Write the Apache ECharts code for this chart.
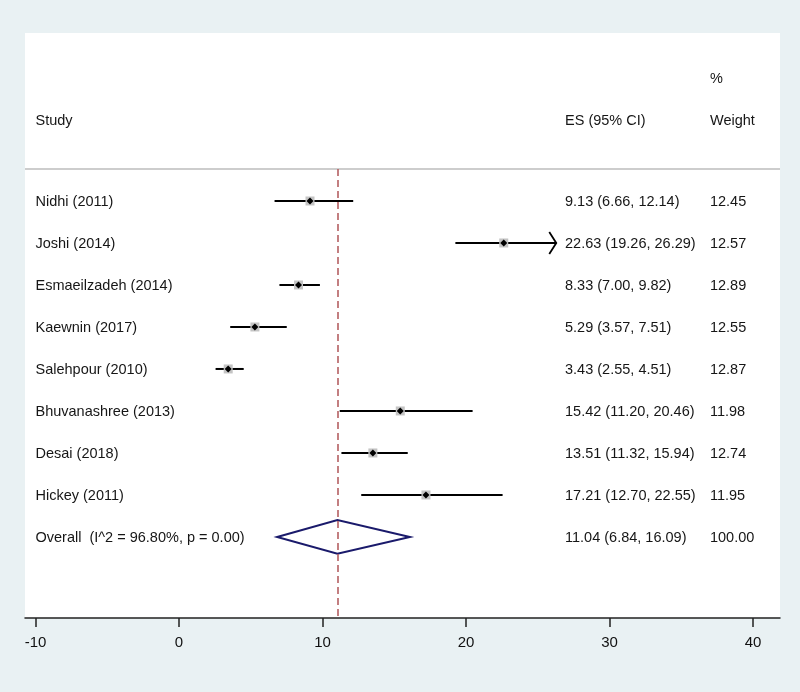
<!DOCTYPE html>
<html>
<head>
<meta charset="utf-8">
<script src="https://cdn.jsdelivr.net/npm/echarts@6/dist/echarts.min.js"></script>
<style>
  html, body { margin: 0; padding: 0; background: #e9f1f3; }
  #main { width: 800px; height: 692px; }
</style>
</head>
<body>
<div id="main"></div>
<script>
// 数据
var studies = ['Nidhi (2011)', 'Joshi (2014)', 'Esmaeilzadeh (2014)', 'Kaewnin (2017)',
               'Salehpour (2010)', 'Bhuvanashree (2013)', 'Desai (2018)', 'Hickey (2011)'];
var es     = [9.13, 22.63, 8.33, 5.29, 3.43, 15.42, 13.51, 17.21];
var lower  = [6.66, 19.26, 7.00, 3.57, 2.55, 11.20, 11.32, 12.70];
var upper  = [12.14, 26.29, 9.82, 7.51, 4.51, 20.46, 15.94, 22.55];
var weight = [12.45, 12.57, 12.89, 12.55, 12.87, 11.98, 12.74, 11.95];
var arrowUpper = [false, true, false, false, false, false, false, false];

var overallLabel = 'Overall  (I^2 = 96.80%, p = 0.00)';
var overall = { es: 11.04, lower: 6.84, upper: 16.09, weight: 100.00 };

var xTicks = [-10, 0, 10, 20, 30, 40];

// 版式
var firstRow = 4;          // 第一项研究所在行
var headerLine = 3.24;     // 表头分隔线
var yMax = 13.93;
var colStudy = -10.0, colES = 26.9, colW = 37.0;
var font = 'Liberation Sans, Arial, sans-serif';

function fmt(v) { return v.toFixed(2); }

var rows = studies.map(function (s, i) {
    return [es[i], firstRow + i, lower[i], upper[i], weight[i], arrowUpper[i] ? 1 : 0];
});

var textRows = [];
textRows.push([colW, 1.05, '%']);
textRows.push([colStudy, 2.05, 'Study']);
textRows.push([colES, 2.05, 'ES (95% CI)']);
textRows.push([colW, 2.05, 'Weight']);
studies.forEach(function (s, i) {
    textRows.push([colStudy, firstRow + i, s]);
    textRows.push([colES, firstRow + i, fmt(es[i]) + ' (' + fmt(lower[i]) + ', ' + fmt(upper[i]) + ')']);
    textRows.push([colW, firstRow + i, fmt(weight[i])]);
});
var overallRow = firstRow + studies.length;
textRows.push([colStudy, overallRow, overallLabel]);
textRows.push([colES, overallRow, fmt(overall.es) + ' (' + fmt(overall.lower) + ', ' + fmt(overall.upper) + ')']);
textRows.push([colW, overallRow, fmt(overall.weight)]);

var myChart = echarts.init(document.getElementById('main'));

var option = {
    backgroundColor: '#e9f1f3',
    animation: false,
    grid: {
        left: 25, right: 20, top: 33, bottom: 74,
        show: true, backgroundColor: '#ffffff', borderWidth: 0
    },
    xAxis: {
        type: 'value',
        min: -10.73,
        max: 41.88,
        position: 'bottom',
        axisLine: { show: true, onZero: false, lineStyle: { color: '#222', width: 1.5 } },
        axisTick: { show: true, customValues: xTicks, length: 9, lineStyle: { color: '#222', width: 1.5 } },
        axisLabel: { customValues: xTicks, color: '#111', fontSize: 15, fontFamily: font, margin: 17 },
        splitLine: { show: false }
    },
    yAxis: {
        type: 'value',
        min: 0,
        max: yMax,
        inverse: true,
        show: false
    },
    series: [
        {
            // 参考线
            type: 'line',
            data: [],
            silent: true,
            markLine: {
                symbol: 'none',
                silent: true,
                label: { show: false },
                data: [
                    [{ coord: [-10.73, headerLine], lineStyle: { color: '#bdbdbd', width: 1.5, type: 'solid' } },
                     { coord: [41.88, headerLine] }],
                    [{ coord: [overall.es, headerLine], lineStyle: { color: '#b55f62', width: 1.6, type: [7, 4] } },
                     { coord: [overall.es, yMax] }]
                ]
            }
        },
        {
            // 各研究的效应量及置信区间
            type: 'custom',
            data: rows,
            renderItem: function (params, api) {
                var y = api.value(1);
                var pLo = api.coord([api.value(2), y]);
                var pHi = api.coord([api.value(3), y]);
                var pEs = api.coord([api.value(0), y]);
                var box = 9;
                var children = [
                    { type: 'line', shape: { x1: pLo[0], y1: pLo[1], x2: pHi[0], y2: pHi[1] },
                      style: { stroke: '#000', lineWidth: 2 } },
                    { type: 'rect', shape: { x: pEs[0] - box / 2, y: pEs[1] - box / 2, width: box, height: box },
                      style: { fill: '#c4c4c4' } },
                    { type: 'polygon', shape: { points: [[pEs[0] - 3.5, pEs[1]], [pEs[0], pEs[1] - 3.5],
                                                         [pEs[0] + 3.5, pEs[1]], [pEs[0], pEs[1] + 3.5]] },
                      style: { fill: '#000' } }
                ];
                if (api.value(5)) {
                    children.push({ type: 'polyline',
                        shape: { points: [[pHi[0] - 7, pHi[1] - 11], [pHi[0], pHi[1]], [pHi[0] - 7, pHi[1] + 11]] },
                        style: { stroke: '#000', lineWidth: 1.8, fill: null } });
                }
                return { type: 'group', children: children };
            }
        },
        {
            // 合并效应菱形
            type: 'custom',
            data: [[overall.es, overallRow, overall.lower, overall.upper]],
            renderItem: function (params, api) {
                var y = api.value(1);
                var top = api.coord([api.value(0), y - 0.4]);
                var bot = api.coord([api.value(0), y + 0.4]);
                var l = api.coord([api.value(2), y]);
                var r = api.coord([api.value(3), y]);
                return { type: 'polygon', shape: { points: [l, top, r, bot] },
                         style: { stroke: '#1a1a6b', lineWidth: 2, fill: null } };
            }
        },
        {
            // 表格文字
            type: 'custom',
            data: textRows,
            renderItem: function (params, api) {
                var p = api.coord([api.value(0), api.value(1)]);
                return { type: 'text', x: p[0], y: p[1] + 1.5,
                         style: { text: textRows[params.dataIndex][2], fill: '#161616',
                                  font: '14.5px ' + font, textAlign: 'left', textVerticalAlign: 'middle' } };
            }
        }
    ]
};

myChart.setOption(option);
</script>
</body>
</html>
